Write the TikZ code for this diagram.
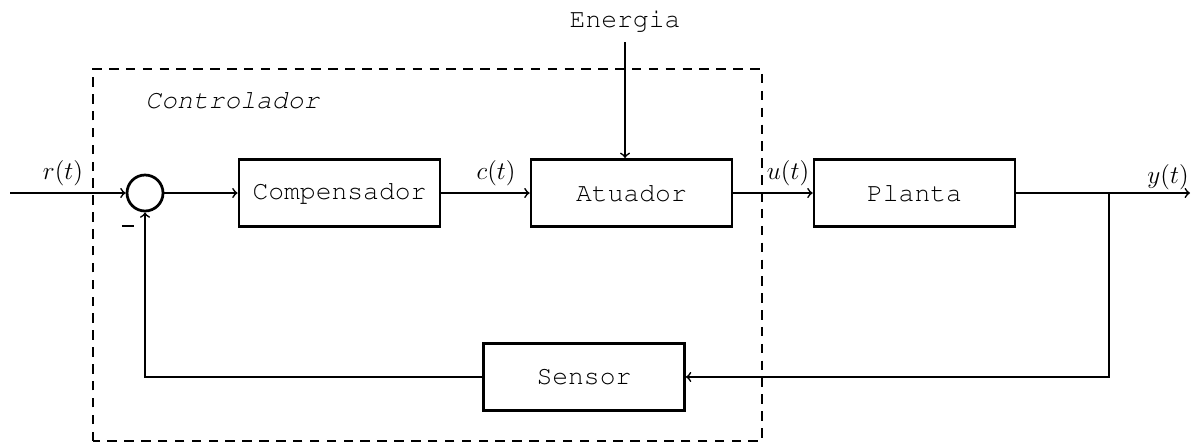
\documentclass[tikz,border=0pt]{standalone}
\usepackage{amsmath}
\usepackage[T1]{fontenc}
\usepackage{courier}
\usepackage{tikz}
\usetikzlibrary{arrows,positioning}

\tikzset{
  block/.style={draw,line width=1.3pt,minimum width=3.35cm,minimum height=1.12cm,font=\fontsize{12.5}{14}\selectfont\ttfamily},
  sumnode/.style={draw,circle,line width=1.3pt,minimum size=0.6cm,inner sep=0pt},
  sinal/.style={line width=0.8pt},
  limite/.style={dash pattern=on 4.5pt off 3.5pt,line width=0.6pt}
}

\begin{document}
\begin{tikzpicture}[scale=1,font=\fontsize{12}{14}\selectfont]
\useasboundingbox (0,0) rectangle (19.883,7.4);
%-------->controller frame<--------------
\draw [limite] (1.55,0.05) rectangle (12.7,6.25);
\node [anchor=west,font=\fontsize{12.5}{14}\selectfont\ttfamily\itshape] (ctrl) at (2.3,5.733) {Controlador};
%-------->nodes<--------------
\node [sumnode] (soma) at (2.417,4.183) {};
\node [block] (comp) at (5.658,4.183) {Compensador};
\node [block] (atu) at (10.525,4.183) {Atuador};
\node [block] (planta) at (15.242,4.183) {Planta};
\node [block] (sensor) at (9.733,1.117) {Sensor};
\node [font=\fontsize{12.5}{14}\selectfont\ttfamily] (energia) at (10.417,7.04) {Energia};
\coordinate (entrada) at (0.167,4.183);
\coordinate (saida) at (19.833,4.183);
\coordinate (ramo) at (18.483,4.183);
%------------->forward path<------------------
\draw [sinal,->] (entrada) -- (soma);
\draw [sinal,->] (soma) -- (comp);
\draw [sinal,->] (comp) -- (atu);
\draw [sinal,->] (atu) -- (planta);
\draw [sinal,->] (planta) -- (saida);
\draw [sinal,->] (energia.south) ++(0,-0.05) -- (energia.south |- atu.north);
%----------------> feedback path<------------------
\draw [sinal,->] (ramo) |- (sensor.east);
\draw [sinal,->] (sensor.west) -| (soma.south);
%-----------> signal labels <---------------
\node at (1.05,4.517) (rt) {$r(t)$};
\node at (8.267,4.517) (ct) {$c(t)$};
\node at (13.133,4.517) (ut) {$u(t)$};
\node at (19.467,4.45) (yt) {$y(t)$};
\node at (2.133,3.633) (menos) {\rule{0.2cm}{1.4pt}};
\end{tikzpicture}
\end{document}
